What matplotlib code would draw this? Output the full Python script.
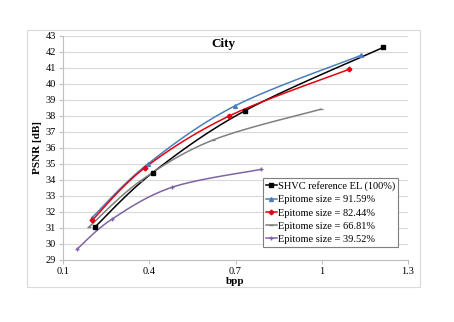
import matplotlib.pyplot as plt
import numpy as np
from matplotlib.patches import Rectangle

plt.rcParams['font.family'] = ['Liberation Serif', 'DejaVu Serif']

# rate (bpp) / PSNR (dB) points
names = ['SHVC reference EL (100%)', 'Epitome size = 91.59%', 'Epitome size = 82.44%',
         'Epitome size = 66.81%', 'Epitome size = 39.52%']
bpp = [
    [0.211, 0.412, 0.733, 1.214],
    [0.201, 0.395, 0.698, 1.136],
    [0.202, 0.385, 0.678, 1.095],
    [0.190, 0.370, 0.622, 0.996],
    [0.150, 0.270, 0.480, 0.790],
]
psnr = [
    [31.06, 34.46, 38.33, 42.29],
    [31.65, 35.00, 38.63, 41.79],
    [31.50, 34.77, 38.00, 40.92],
    [31.05, 33.95, 36.50, 38.42],
    [29.70, 31.55, 33.55, 34.67],
]
colors = ['#000000', '#4a7ebb', '#e3000f', '#7f7f7f', '#8064a2']
markers = ['s', '^', 'D', '_', '+']
msizes = [2.8, 2.8, 2.4, 3.5, 3]


def smooth(xs, ys, n=30):
    # catmull-rom through the points, like Excel's smoothed lines
    px = [xs[0]] + list(xs) + [xs[-1]]
    py = [ys[0]] + list(ys) + [ys[-1]]
    ox, oy = [], []
    for i in range(1, len(px) - 2):
        t = np.linspace(0, 1, n)
        for p, o in ((px, ox), (py, oy)):
            p0, p1, p2, p3 = p[i - 1], p[i], p[i + 1], p[i + 2]
            o.extend(0.5 * (2 * p1 + (-p0 + p2) * t + (2 * p0 - 5 * p1 + 4 * p2 - p3) * t ** 2
                            + (-p0 + 3 * p1 - 3 * p2 + p3) * t ** 3))
    return ox, oy


fig = plt.figure(figsize=(4.54, 3.22), dpi=100)
fig.patches.append(Rectangle((27 / 454, 1 - 287 / 322), 393 / 454, 257 / 322,
                             transform=fig.transFigure, fill=False, ec='#d9d9d9', lw=0.8))
ax = fig.add_axes([63 / 454, 62 / 322, 345 / 454, 224 / 322])

for i in range(len(names)):
    sx, sy = smooth(bpp[i], psnr[i])
    ax.plot(sx, sy, color=colors[i], lw=1.1, zorder=3)
    ax.plot(bpp[i], psnr[i], linestyle='none', marker=markers[i], ms=msizes[i],
            color=colors[i], mew=1, zorder=4)
    ax.plot([], [], color=colors[i], lw=1.1, marker=markers[i], ms=msizes[i], mew=1,
            label=names[i])

ax.set_xlim(0.1, 1.3)
ax.set_ylim(29, 43)
ax.set_xticks([0.1, 0.4, 0.7, 1.0, 1.3])
ax.set_xticklabels(['0.1', '0.4', '0.7', '1', '1.3'])
ax.set_yticks(range(29, 44))
ax.grid(axis='y', color='#d9d9d9', lw=0.8)
ax.set_axisbelow(True)
for s in ['top', 'right']:
    ax.spines[s].set_visible(False)
for s in ['left', 'bottom']:
    ax.spines[s].set_color('#bfbfbf')
ax.tick_params(labelsize=7.5, color='#bfbfbf', length=3, pad=2)

ax.set_xlabel('bpp', fontsize=8, fontweight='bold', labelpad=1)
ax.set_ylabel('PSNR [dB]', fontsize=8, fontweight='bold', labelpad=3)
ax.text(0.464, 0.965, 'City', transform=ax.transAxes, ha='center', va='center',
        fontsize=9.5, fontweight='bold')

leg = ax.legend(loc='upper right', bbox_to_anchor=(0.971, 0.366), borderaxespad=0,
                fontsize=7.5, fancybox=False, framealpha=1, edgecolor='#7f7f7f',
                handlelength=1.0, handletextpad=0.1, labelspacing=0.38, borderpad=0.3)
leg.get_frame().set_linewidth(0.8)

fig.savefig('out.png', dpi=100)
